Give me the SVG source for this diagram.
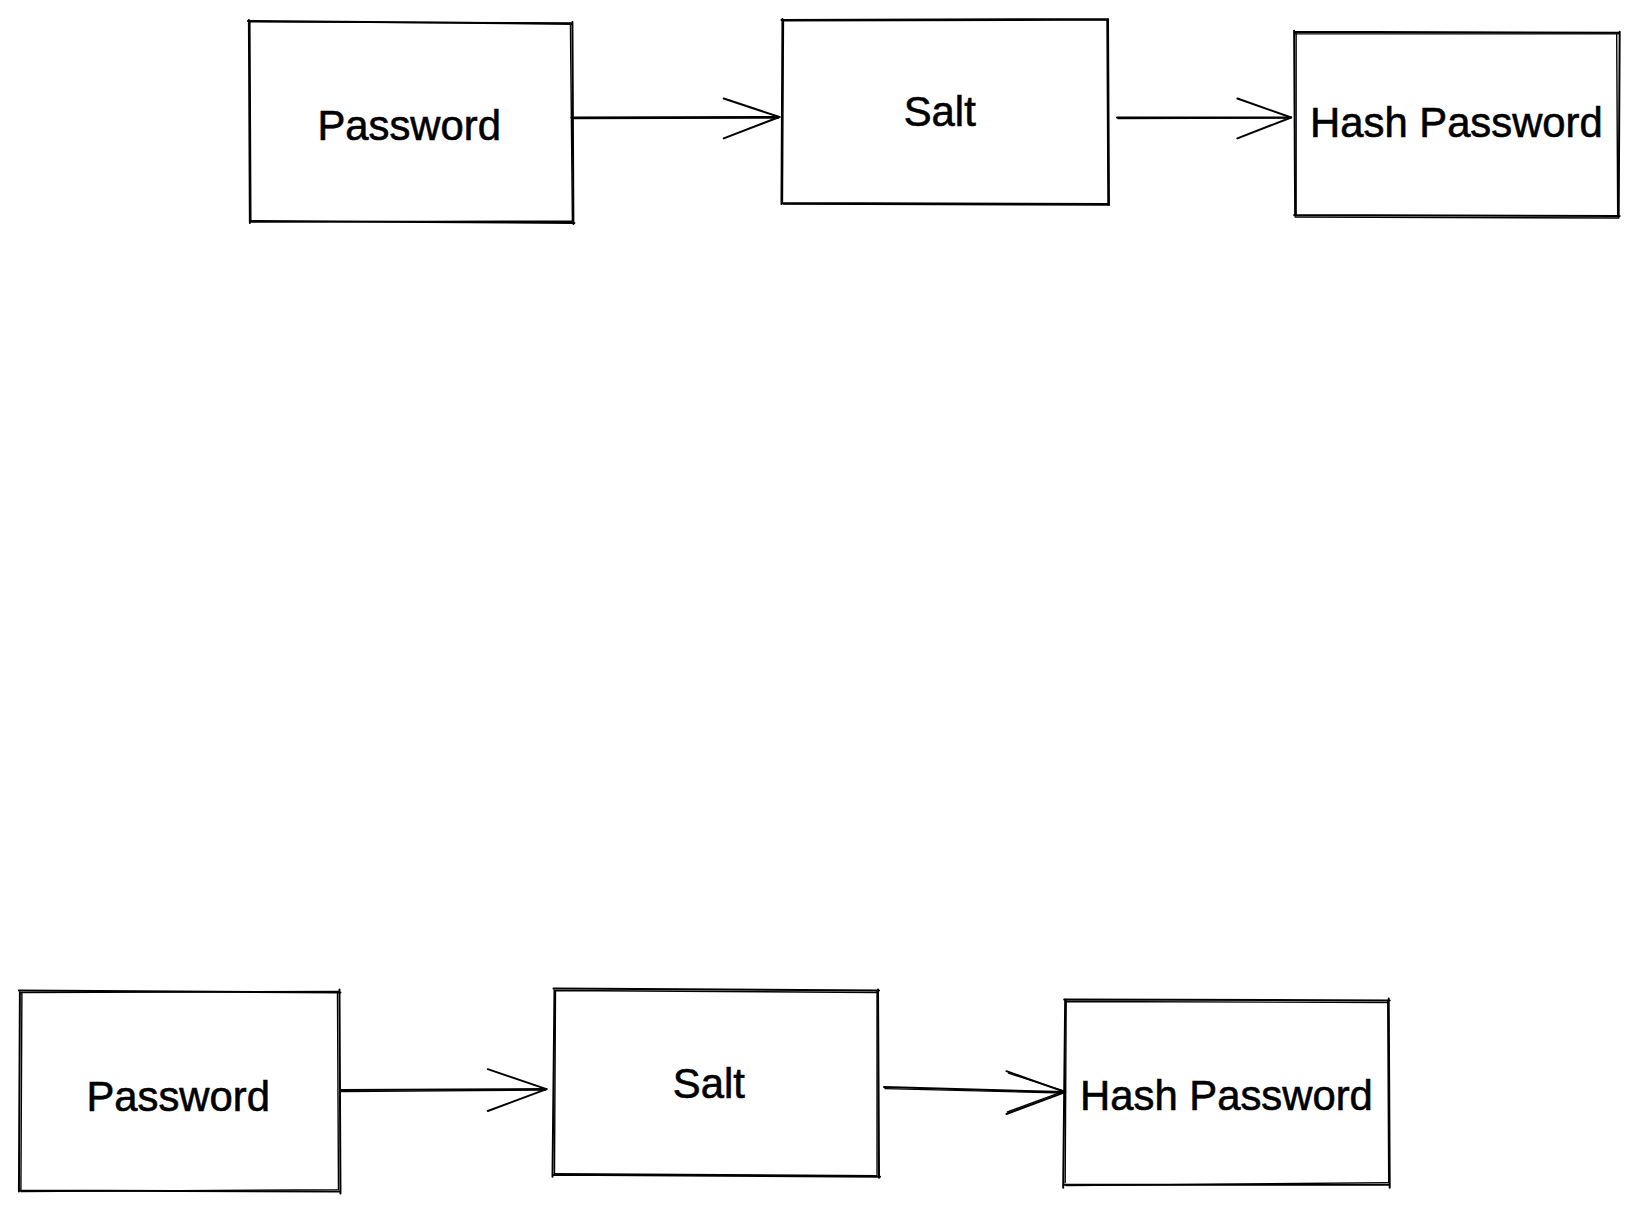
<svg xmlns="http://www.w3.org/2000/svg" width="1639" height="1212" viewBox="0 0 1639 1212">
<defs>
<style>
.sk{fill:none;stroke:#000;stroke-width:2;stroke-linecap:round;stroke-linejoin:round}
.sk2{fill:none;stroke:#000;stroke-width:1.4;stroke-linecap:round}
.lbl{font-family:"Liberation Sans","Noto Sans",sans-serif;font-size:42px;fill:#000;stroke:#000;stroke-width:0.6;text-anchor:middle;dominant-baseline:central}
</style>
</defs>
<rect width="1639" height="1212" fill="#fff"/>
<g transform="scale(0.9955)">
<g id="connectors">
<path class="sk" d="M574 118 L783 117.5"/>
<path class="sk2" d="M575 119 L782 118.5"/>
<path class="sk" d="M727 99 L783 117.5 L727 139"/>
<path class="sk" d="M1122 118 L1297 118"/>
<path class="sk2" d="M1123 119 L1296 118.5"/>
<path class="sk" d="M1243 99 L1297 118 L1243 139"/>
<path class="sk" d="M342 1095 L549 1094"/>
<path class="sk2" d="M343 1096.5 L548 1095"/>
<path class="sk" d="M490 1074 L549 1094 L490 1116"/>
<path class="sk" d="M888 1092 L1070 1097"/>
<path class="sk2" d="M889 1093.5 L1069 1098"/>
<path class="sk" d="M1011 1076 L1070 1097 L1011 1119"/>
<path class="sk2" d="M1013 1078 L1069 1096 L1012 1117"/>
</g>
<g id="node-password-top">
<path class="sk" d="M249 21 L575 24 M575 22 L576 225 M577 224 L251 222 M251 224 L250 20"/>
<path class="sk2" d="M251 22 L574 23 M573 24 L575 223 M575 222 L252 223 M252 221 L251 22"/>
<text class="lbl" x="411" y="126">Password</text>
</g>
<g id="node-salt-top">
<path class="sk" d="M785 20 L1113 19 M1113 19 L1114 206 M1114 205 L785 204 M785 205 L786 19"/>
<path class="sk2" d="M787 21 L1112 20 M1112 21 L1113 204 M1113 206 L787 205 M786 203 L787 21"/>
<text class="lbl" x="944" y="112">Salt</text>
</g>
<g id="node-hash-top">
<path class="sk" d="M1300 32 L1627 33 M1627 32 L1626 218 M1627 217 L1300 216 M1301 217 L1300 31"/>
<path class="sk2" d="M1301 34 L1626 34 M1624 35 L1625 216 M1626 219 L1301 218 M1302 216 L1302 33"/>
<text class="lbl" x="1463" y="123">Hash Password</text>
</g>
<g id="node-password-bottom">
<path class="sk" d="M19 995 L342 997 M341 994 L342 1199 M342 1197 L20 1196 M19 1197 L20 996"/>
<path class="sk2" d="M21 997 L340 996 M339 997 L340 1195 M340 1195 L21 1197 M21 1195 L22 997"/>
<text class="lbl" x="179" y="1101">Password</text>
</g>
<g id="node-salt-bottom">
<path class="sk" d="M556 993 L883 995 M882 994 L883 1183 M884 1182 L556 1180 M555 1182 L557 994"/>
<path class="sk2" d="M558 995 L881 997 M881 995 L881 1180 M881 1181 L558 1179 M557 1180 L558 996"/>
<text class="lbl" x="712" y="1088">Salt</text>
</g>
<g id="node-hash-bottom">
<path class="sk" d="M1069 1004 L1396 1005 M1395 1003 L1396 1193 M1396 1190 L1069 1190 M1068 1193 L1070 1004"/>
<path class="sk2" d="M1071 1006 L1394 1007 M1394 1006 L1395 1188 M1394 1188 L1071 1191 M1070 1188 L1071 1005"/>
<text class="lbl" x="1232" y="1100">Hash Password</text>
</g>
</g>
</svg>
